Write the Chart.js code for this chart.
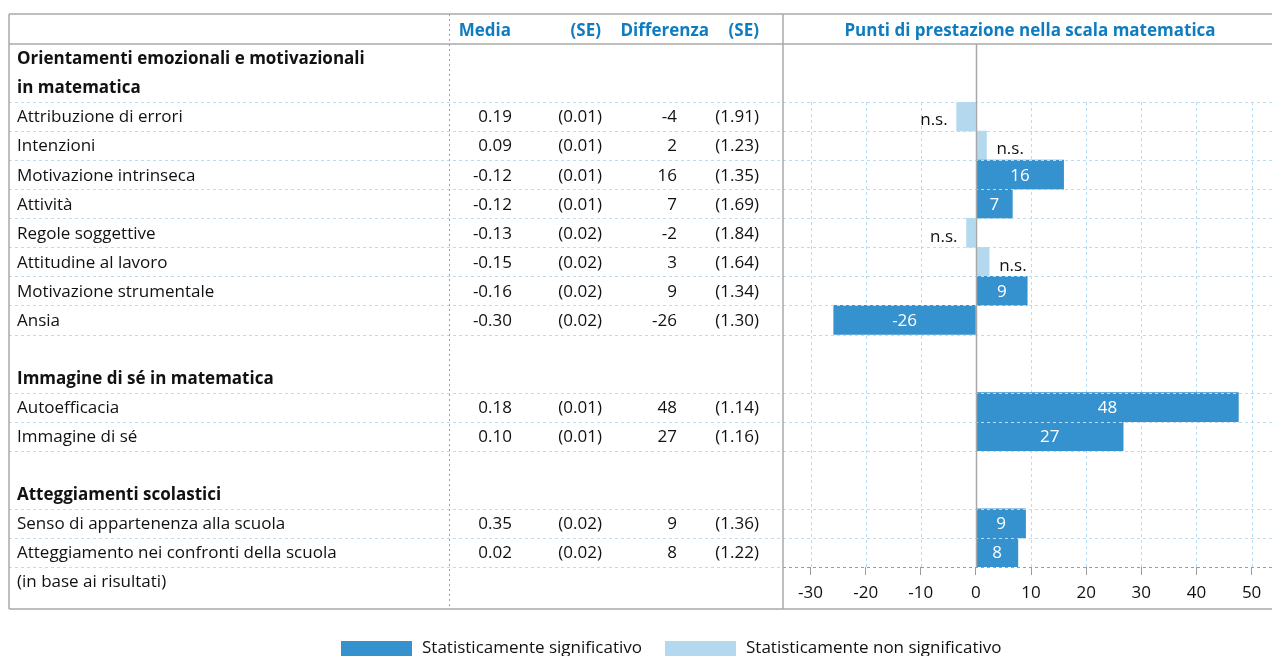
<!DOCTYPE html>
<html lang="it">
<head>
<meta charset="utf-8">
<title>Punti di prestazione nella scala matematica</title>
<script src="https://cdn.jsdelivr.net/npm/chart.js@4.4.1/dist/chart.umd.min.js"></script>
<style>
  html, body { margin: 0; padding: 0; background: #fff; }
</style>
</head>
<body>
<canvas id="myChart" width="1272" height="656"></canvas>
<script>
(() => {
  'use strict'

  // Table rows (the chart's category axis); '' = blank spacer row
  const categories = [
    'Attribuzione di errori',
    'Intenzioni',
    'Motivazione intrinseca',
    'Attività',
    'Regole soggettive',
    'Attitudine al lavoro',
    'Motivazione strumentale',
    'Ansia',
    '',
    'Immagine di sé in matematica',
    'Autoefficacia',
    'Immagine di sé',
    ' ',
    'Atteggiamenti scolastici',
    'Senso di appartenenza alla scuola',
    'Atteggiamento nei confronti della scuola'
  ]
  const headingRows = [9, 13]
  const titleRows = ['Orientamenti emozionali e motivazionali', 'in matematica']
  const footnote = '(in base ai risultati)'
  const columnHeads = ['Media', '(SE)', 'Differenza', '(SE)']
  const chartTitle = 'Punti di prestazione nella scala matematica'

  const media = ['0.19', '0.09', '-0.12', '-0.12', '-0.13', '-0.15', '-0.16', '-0.30', null, null, '0.18', '0.10', null, null, '0.35', '0.02']
  const mediaSE = ['(0.01)', '(0.01)', '(0.01)', '(0.01)', '(0.02)', '(0.02)', '(0.02)', '(0.02)', null, null, '(0.01)', '(0.01)', null, null, '(0.02)', '(0.02)']
  const diff = [-4, 2, 16, 7, -2, 3, 9, -26, null, null, 48, 27, null, null, 9, 8]
  const diffSE = ['(1.91)', '(1.23)', '(1.35)', '(1.69)', '(1.84)', '(1.64)', '(1.34)', '(1.30)', null, null, '(1.14)', '(1.16)', null, null, '(1.36)', '(1.22)']
  // bar lengths as drawn (unrounded differences)
  const barValues = [-3.5, 1.9, 15.9, 6.6, -1.7, 2.4, 9.3, -25.8, null, null, 47.6, 26.7, null, null, 9.0, 7.6]
  const significant = [false, false, true, true, false, false, true, true, null, null, true, true, null, null, true, true]

  const xTicks = [-30, -20, -10, 0, 10, 20, 30, 40, 50]
  const xMin = -35
  const xMax = 53.7

  const BLUE = '#3592cf'
  const LIGHT = '#b4d8ee'
  const HEAD = '#0f7cc1'
  const INK = '#111111'
  const FONT = '"Open Sans", "Noto Sans", sans-serif'
  const SIZE = 17
  const FRAME = { left: 9, top: 14, head: 44, bottom: 609 }
  const COLS = [512, 602, 677, 759]
  const HEAD_COLS = [511, 601, 709, 759]

  const sigData = barValues.map((v, i) => (significant[i] === true ? v : null))
  const nsData = barValues.map((v, i) => (significant[i] === false ? v : null))

  const line = (ctx, x1, y1, x2, y2) => {
    ctx.beginPath()
    ctx.moveTo(x1, y1)
    ctx.lineTo(x2, y2)
    ctx.stroke()
  }

  const gridPlugin = {
    id: 'xgrid',
    beforeDatasetsDraw (chart) {
      const { ctx, chartArea: area, scales: { x } } = chart
      ctx.save()
      ctx.setLineDash([3, 3])
      ctx.lineWidth = 1
      ctx.strokeStyle = '#b9dcf1'
      xTicks.forEach(t => {
        if (t === 0) return
        const px = Math.round(x.getPixelForValue(t)) + 0.5
        line(ctx, px, area.top, px, area.bottom)
      })
      ctx.restore()
    }
  }

  const tablePlugin = {
    id: 'table',
    afterDraw (chart) {
      const { ctx, chartArea: area, scales: { x, y } } = chart
      const W = chart.width
      const rowH = y.getPixelForValue(1) - y.getPixelForValue(0)
      const mid = i => y.getPixelForValue(i) + 1
      const isData = i => diff[i] != null
      const regular = SIZE + 'px ' + FONT
      const bold = 'bold ' + regular

      ctx.save()

      // row rules
      ctx.setLineDash([3, 3])
      ctx.lineWidth = 1
      ctx.strokeStyle = '#b9dcf1'
      for (let i = 0; i <= categories.length; i++) {
        if (!(isData(i) || isData(i - 1))) continue
        const yy = Math.round(y.getPixelForValue(i) - rowH / 2) + 0.5
        line(ctx, FRAME.left, yy, i === categories.length ? area.left : W, yy)
      }
      // x axis line
      ctx.strokeStyle = '#9c9c9c'
      line(ctx, area.left, Math.round(area.bottom) + 0.5, W, Math.round(area.bottom) + 0.5)

      // dotted column divider
      ctx.setLineDash([2, 3])
      ctx.strokeStyle = '#a0a0a0'
      line(ctx, 449.5, FRAME.top, 449.5, FRAME.bottom)

      // frame
      ctx.setLineDash([])
      ctx.lineWidth = 1.5
      ctx.strokeStyle = '#a8a8a8'
      line(ctx, FRAME.left, FRAME.top, W, FRAME.top)
      line(ctx, FRAME.left, FRAME.head, W, FRAME.head)
      line(ctx, FRAME.left, FRAME.bottom, W, FRAME.bottom)
      line(ctx, FRAME.left, FRAME.top, FRAME.left, FRAME.bottom)
      line(ctx, area.left, FRAME.top, area.left, FRAME.bottom)
      // zero line
      const x0 = Math.round(x.getPixelForValue(0)) + 0.5
      line(ctx, x0, FRAME.head, x0, area.bottom)

      // headers
      ctx.textBaseline = 'middle'
      ctx.fillStyle = HEAD
      ctx.font = bold
      ctx.textAlign = 'right'
      columnHeads.forEach((h, c) => ctx.fillText(h, HEAD_COLS[c], 31))
      ctx.textAlign = 'center'
      ctx.fillText(chartTitle, 1030, 31)

      // table body
      ctx.fillStyle = INK
      ctx.textAlign = 'left'
      ctx.font = bold
      titleRows.forEach((t, k) => ctx.fillText(t, 17, mid(k - titleRows.length)))
      categories.forEach((c, i) => {
        const yy = mid(i)
        ctx.textAlign = 'left'
        ctx.font = headingRows.includes(i) ? bold : regular
        ctx.fillText(c, 17, yy)
        if (!isData(i)) return
        ctx.font = regular
        ctx.textAlign = 'right'
        ;[media[i], mediaSE[i], String(diff[i]), diffSE[i]].forEach((v, c) => ctx.fillText(v, COLS[c], yy))
      })
      ctx.textAlign = 'left'
      ctx.font = regular
      ctx.fillText(footnote, 17, mid(categories.length))

      // bar labels
      chart.data.datasets.forEach((ds, d) => {
        chart.getDatasetMeta(d).data.forEach((bar, i) => {
          if (ds.data[i] == null) return
          if (d === 0) {
            ctx.fillStyle = '#ffffff'
            ctx.textAlign = 'center'
            ctx.fillText(String(diff[i]), (bar.x + bar.base) / 2, bar.y + 1)
          } else {
            ctx.fillStyle = INK
            const neg = ds.data[i] < 0
            ctx.textAlign = neg ? 'right' : 'left'
            ctx.fillText('n.s.', bar.x + (neg ? -9 : 10), bar.y + 4)
          }
        })
      })

      // legend
      const items = [
        { x: 341, color: BLUE, text: chart.data.datasets[0].label },
        { x: 665, color: LIGHT, text: chart.data.datasets[1].label }
      ]
      ctx.textAlign = 'left'
      items.forEach(it => {
        ctx.fillStyle = it.color
        ctx.fillRect(it.x, 641, 71, 16)
        ctx.fillStyle = INK
        ctx.fillText(it.text, it.x + 81, 648)
      })

      ctx.restore()
    }
  }

  const ctx = document.getElementById('myChart')
  // eslint-disable-next-line no-unused-vars
  const myChart = new Chart(ctx, {
    type: 'bar',
    data: {
      labels: categories,
      datasets: [{
        label: 'Statisticamente significativo',
        data: sigData,
        backgroundColor: BLUE,
        grouped: false,
        barPercentage: 1,
        categoryPercentage: 1,
        borderWidth: 0
      }, {
        label: 'Statisticamente non significativo',
        data: nsData,
        backgroundColor: LIGHT,
        grouped: false,
        barPercentage: 1,
        categoryPercentage: 1,
        borderWidth: 0
      }]
    },
    options: {
      indexAxis: 'y',
      responsive: false,
      animation: false,
      devicePixelRatio: 1,
      layout: { padding: { left: 783, right: 0, top: 102, bottom: 47 } },
      plugins: {
        legend: { display: false },
        tooltip: { enabled: false }
      },
      scales: {
        y: { display: false },
        x: {
          min: xMin,
          max: xMax,
          afterBuildTicks: scale => {
            scale.ticks = xTicks.map(v => ({ value: v }))
          },
          afterFit: scale => { scale.height = 42 },
          grid: {
            drawOnChartArea: false,
            drawTicks: true,
            tickLength: 8,
            tickColor: '#9c9c9c',
            tickWidth: 1
          },
          border: { display: false },
          ticks: {
            padding: 8,
            color: INK,
            font: { family: FONT, size: SIZE }
          }
        }
      }
    },
    plugins: [gridPlugin, tablePlugin]
  })
})()
</script>
</body>
</html>
